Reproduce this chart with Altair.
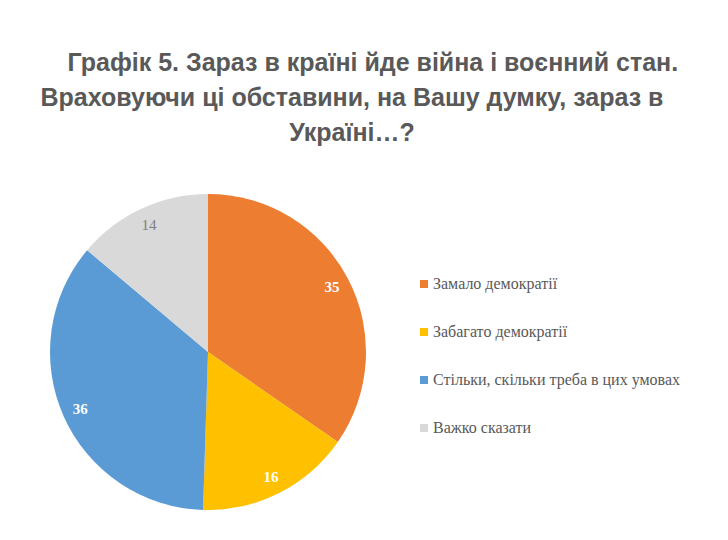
import altair as alt
import pandas as pd

categories = ["Замало демократії", "Забагато демократії",
              "Стільки, скільки треба в цих умовах", "Важко сказати"]
values = [35, 16, 36, 14]
colors = ["#ED7D31", "#FFC000", "#5B9BD5", "#D9D9D9"]
label_white = [True, True, True, False]

df = pd.DataFrame({
    "cat": categories,
    "val": values,
    "idx": list(range(len(categories))),
    "white": label_white,
})

title_lines = ["\u200b" + "\u00a0" * 6 + "Графік 5. Зараз в країні йде війна і воєнний стан.",
               "Враховуючи ці обставини, на Вашу думку, зараз в",
               "Україні…?"]

pie = alt.Chart(df).mark_arc(outerRadius=158, strokeWidth=0).encode(
    theta=alt.Theta("val:Q", stack=True),
    order=alt.Order("idx:Q"),
    color=alt.Color(
        "cat:N",
        scale=alt.Scale(domain=categories, range=colors),
        sort=categories,
        legend=alt.Legend(
            title=None,
            orient="none",
            legendX=408,
            legendY=96,
            symbolType="square",
            symbolSize=64,
            symbolStrokeWidth=0,
            labelFont="Liberation Serif",
            labelFontSize=16,
            labelColor="#595959",
            labelLimit=400,
            rowPadding=32,
            labelOffset=1,
        ),
    ),
)

lab_base = alt.Chart(df).transform_window(
    cum="sum(val)", sort=[alt.SortField("idx")]
).transform_calculate(
    mid="datum.cum - datum.val / 2"
).encode(
    theta=alt.Theta("mid:Q", stack=None),
    text="val:Q",
)

lab_white = lab_base.mark_text(radius=140, font="Liberation Serif", fontSize=15,
                               fontWeight="bold", color="white").transform_filter("datum.white")

lab_gray = lab_base.mark_text(radius=140, font="Liberation Serif", fontSize=15,
                              color="#7F7F7F").transform_filter("!datum.white")

chart = alt.layer(pie, lab_white, lab_gray).properties(
    width=400,
    height=344,
    padding={"left": 0, "top": 172, "right": 312, "bottom": 0},
    autosize=alt.AutoSizeParams(type="none"),
    title=alt.TitleParams(
        text=title_lines,
        anchor="middle",
        dx=144,
        font="Liberation Sans",
        fontSize=25,
        fontWeight="bold",
        color="#595959",
        lineHeight=35,
        offset=34,
    ),
).configure_view(stroke=None).configure(background="white")

chart.save("out.html", embed_options={"renderer": "svg", "actions": False})
